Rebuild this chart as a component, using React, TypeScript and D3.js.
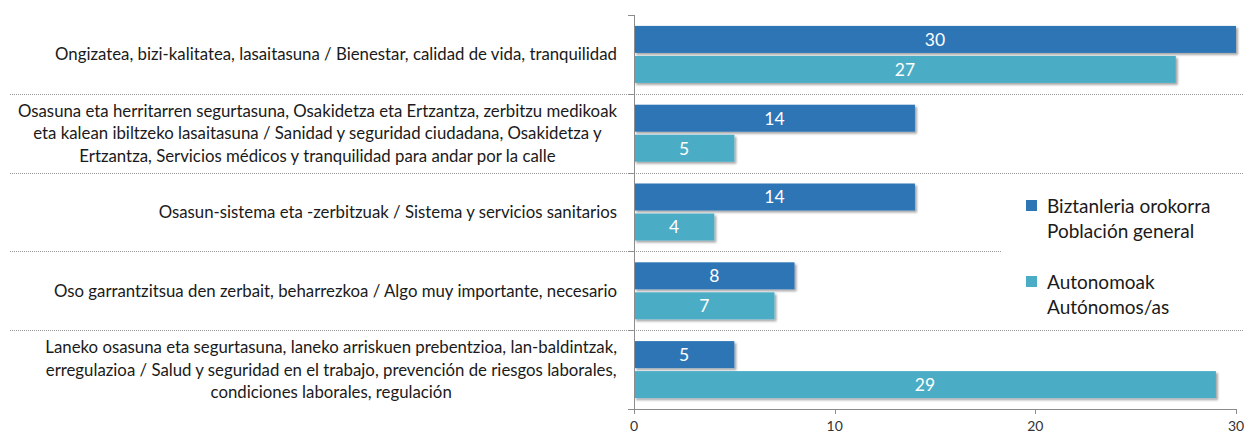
import * as d3 from "d3";
import { useEffect, useRef } from "react";

const categories = [
  ["Ongizatea, bizi-kalitatea, lasaitasuna / Bienestar, calidad de vida, tranquilidad"],
  [
    "Osasuna eta herritarren segurtasuna, Osakidetza eta Ertzantza, zerbitzu medikoak",
    "eta kalean ibiltzeko lasaitasuna / Sanidad y seguridad ciudadana, Osakidetza y",
    "Ertzantza, Servicios médicos y tranquilidad para andar por la calle",
  ],
  ["Osasun-sistema eta -zerbitzuak / Sistema y servicios sanitarios"],
  ["Oso garrantzitsua den zerbait, beharrezkoa / Algo muy importante, necesario"],
  [
    "Laneko osasuna eta segurtasuna, laneko arriskuen prebentzioa, lan-baldintzak,",
    "erregulazioa / Salud y seguridad en el trabajo, prevención de riesgos laborales,",
    "condiciones laborales, regulación",
  ],
];
const generalValues = [30, 14, 14, 8, 5];
const autonomosValues = [27, 5, 4, 7, 29];
const seriesNames = [
  ["Biztanleria orokorra", "Población general"],
  ["Autonomoak", "Autónomos/as"],
];
const seriesColors = ["#2E75B6", "#4BACC6"];
const xTicks = [0, 10, 20, 30];

const App = () => {
  const ref = useRef<SVGSVGElement>(null);

  useEffect(() => {
    document.body.style.margin = "0";
    const svg = d3.select(ref.current);
    const font = "Lato, 'Open Sans', sans-serif";
    const left = 634;
    const right = 1236;
    const top = 15;
    const bottom = 409;

    const x = d3.scaleLinear().domain([0, 30]).range([left, right]);
    const y = d3
      .scaleBand()
      .domain(categories.map((_, i) => String(i)))
      .range([top, bottom]);
    const bw = y.bandwidth();
    const barH = 27;
    const gap = 3;
    const pad = (bw - barH * 2 - gap) / 2;

    const defs = svg.append("defs");
    defs
      .append("filter")
      .attr("id", "shadow")
      .attr("x", "-5%")
      .attr("y", "-20%")
      .attr("width", "110%")
      .attr("height", "150%")
      .append("feDropShadow")
      .attr("dx", 2)
      .attr("dy", 2)
      .attr("stdDeviation", 1.2)
      .attr("flood-color", "#000")
      .attr("flood-opacity", 0.35);

    // dotted separators between categories
    const seps = d3.range(1, categories.length).map((i) => top + i * bw);
    svg
      .selectAll(".sep")
      .data(seps)
      .enter()
      .append("line")
      .attr("x1", 10)
      .attr("x2", 1244)
      .attr("y1", (d) => Math.round(d) + 0.5)
      .attr("y2", (d) => Math.round(d) + 0.5)
      .attr("stroke", "#9a9a9a")
      .attr("stroke-width", 1)
      .attr("stroke-dasharray", "1,1");

    // bars
    const allSeries = [generalValues, autonomosValues];
    allSeries.forEach((vals, s) => {
      const g = svg.append("g");
      g.selectAll("rect")
        .data(vals)
        .enter()
        .append("rect")
        .attr("x", x(0))
        .attr("y", (_, i) => y(String(i))! + pad + s * (barH + gap))
        .attr("width", (d) => x(d) - x(0))
        .attr("height", barH)
        .attr("fill", seriesColors[s])
        .attr("filter", "url(#shadow)");
      g.selectAll("text")
        .data(vals)
        .enter()
        .append("text")
        .attr("x", (d) => (x(0) + x(d)) / 2)
        .attr("y", (_, i) => y(String(i))! + pad + s * (barH + gap) + barH / 2)
        .attr("dy", "0.36em")
        .attr("text-anchor", "middle")
        .attr("fill", "#fff")
        .style("font-family", font)
        .style("font-size", "17.5px")
        .text((d) => d);
    });

    // axes
    const axisColor = "#8c8c8c";
    svg
      .append("line")
      .attr("x1", left + 0.5)
      .attr("x2", left + 0.5)
      .attr("y1", top)
      .attr("y2", bottom)
      .attr("stroke", axisColor);
    svg
      .selectAll(".ytick")
      .data(d3.range(0, categories.length + 1).map((i) => top + i * bw))
      .enter()
      .append("line")
      .attr("x1", left - 6)
      .attr("x2", left)
      .attr("y1", (d) => Math.round(d) + 0.5)
      .attr("y2", (d) => Math.round(d) + 0.5)
      .attr("stroke", axisColor);
    svg
      .append("line")
      .attr("x1", left)
      .attr("x2", right)
      .attr("y1", bottom + 0.5)
      .attr("y2", bottom + 0.5)
      .attr("stroke", axisColor);
    svg
      .selectAll(".xtick")
      .data(xTicks)
      .enter()
      .append("line")
      .attr("x1", (d) => Math.round(x(d)) + 0.5)
      .attr("x2", (d) => Math.round(x(d)) + 0.5)
      .attr("y1", bottom)
      .attr("y2", bottom + 5)
      .attr("stroke", axisColor);
    svg
      .selectAll(".xlabel")
      .data(xTicks)
      .enter()
      .append("text")
      .attr("x", (d) => x(d))
      .attr("y", 431)
      .attr("text-anchor", "middle")
      .attr("fill", "#333")
      .style("font-family", font)
      .style("font-size", "14px")
      .text((d) => d);

    // category labels: lines centered within block, block right-aligned
    const lineH = 22.5;
    categories.forEach((lines, i) => {
      const g = svg.append("g");
      const cy = y(String(i))! + bw / 2;
      const texts = lines.map((line, j) =>
        g
          .append("text")
          .attr("y", cy + (j - (lines.length - 1) / 2) * lineH)
          .attr("dy", "0.36em")
          .attr("text-anchor", "middle")
          .attr("fill", "#1a1a1a")
          .style("font-family", font)
          .style("font-size", "16.8px")
          .text(line)
      );
      const maxW = d3.max(texts, (t) => (t.node() as SVGTextElement).getComputedTextLength()) || 0;
      let cx = 617 - maxW / 2;
      if (cx - maxW / 2 < 5) cx = 5 + maxW / 2;
      texts.forEach((t) => t.attr("x", cx));
    });

    // legend
    const lg = svg.append("g");
    lg.append("rect")
      .attr("x", 1002)
      .attr("y", 178)
      .attr("width", 242)
      .attr("height", 145)
      .attr("fill", "#fff");
    seriesNames.forEach((names, s) => {
      const ly = 200 + s * 76;
      lg.append("rect")
        .attr("x", 1026)
        .attr("y", ly)
        .attr("width", 11)
        .attr("height", 11)
        .attr("fill", seriesColors[s]);
      names.forEach((n, j) => {
        lg.append("text")
          .attr("x", 1047)
          .attr("y", ly + 6 + j * 25)
          .attr("dy", "0.36em")
          .attr("fill", "#1a1a1a")
          .style("font-family", font)
          .style("font-size", "19px")
          .text(n);
      });
    });

    return () => {
      svg.selectAll("*").remove();
    };
  }, []);

  return <svg ref={ref} width={1244} height={435} style={{ display: "block" }} />;
};

export default App;
